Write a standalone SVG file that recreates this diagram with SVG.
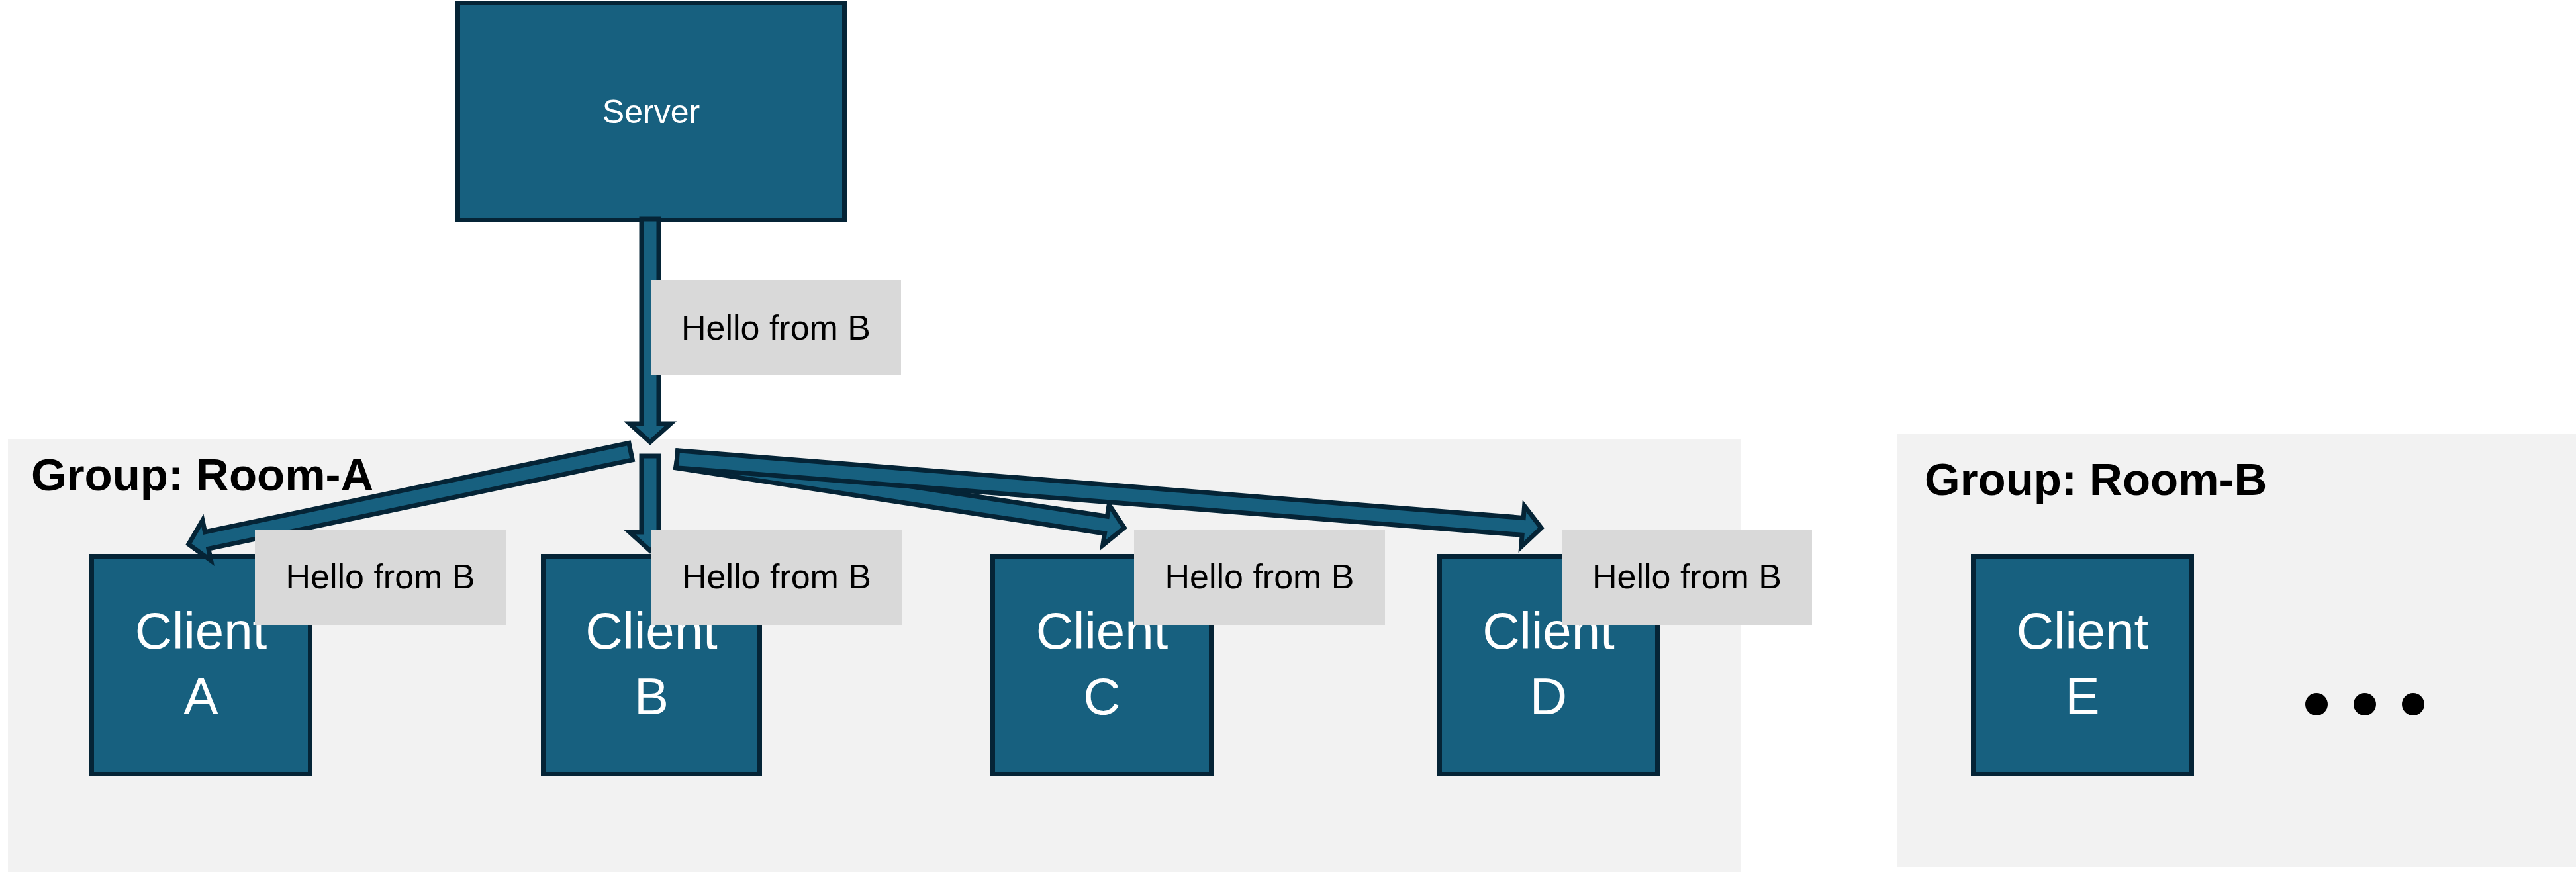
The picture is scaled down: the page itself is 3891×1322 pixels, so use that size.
<svg xmlns="http://www.w3.org/2000/svg" width="3891" height="1322" viewBox="0 0 3891 1322">
<style>
.grp{fill:#F2F2F2}
.grptxt{font-family:"Liberation Sans",Arial,sans-serif;font-weight:bold;font-size:69px;fill:#000}
.box{fill:#17607F;stroke:#052436;stroke-width:7}
.ntxt{font-family:"Liberation Sans",Arial,sans-serif;fill:#fff;text-anchor:middle}
.arr{fill:#17607F;stroke:#052436;stroke-width:7;stroke-linejoin:miter;stroke-miterlimit:10}
.lbl{fill:#D9D9D9}
.ltxt{font-family:"Liberation Sans",Arial,sans-serif;font-size:52px;fill:#000;text-anchor:middle}
</style>
<rect width="3891" height="1322" fill="#fff"/>
<g id="room-a">
<rect class="grp" x="12" y="663" width="2618" height="654"/>
<text class="grptxt" x="47" y="741">Group: Room-A</text>
</g>
<g id="room-b">
<rect class="grp" x="2865" y="656" width="1026" height="654"/>
<text class="grptxt" x="2907" y="748">Group: Room-B</text>
</g>
<g id="server">
<rect class="box" x="691.5" y="4.5" width="584" height="328"/>
<text class="ntxt" x="983.5" y="186" font-size="50">Server</text>
</g>
<g id="client-a">
<rect class="box" x="138.5" y="840.5" width="330" height="329"/>
<text class="ntxt" x="303.5" y="980" font-size="78">Client</text>
<text class="ntxt" x="303.5" y="1079" font-size="78">A</text>
</g>
<g id="client-b">
<rect class="box" x="820.5" y="840.5" width="327" height="329"/>
<text class="ntxt" x="984" y="980" font-size="78">Client</text>
<text class="ntxt" x="984" y="1079" font-size="78">B</text>
</g>
<g id="client-c">
<rect class="box" x="1499.5" y="840.5" width="330" height="329"/>
<text class="ntxt" x="1664.5" y="980" font-size="78">Client</text>
<text class="ntxt" x="1664.5" y="1079" font-size="78">C</text>
</g>
<g id="client-d">
<rect class="box" x="2174.5" y="840.5" width="329" height="329"/>
<text class="ntxt" x="2339" y="980" font-size="78">Client</text>
<text class="ntxt" x="2339" y="1079" font-size="78">D</text>
</g>
<g id="client-e">
<rect class="box" x="2980.5" y="840.5" width="330" height="329"/>
<text class="ntxt" x="3145.5" y="980" font-size="78">Client</text>
<text class="ntxt" x="3145.5" y="1079" font-size="78">E</text>
</g>
<g id="more">
<circle cx="3499" cy="1064" r="17" fill="#000"/>
<circle cx="3572" cy="1064" r="17" fill="#000"/>
<circle cx="3645" cy="1064" r="17" fill="#000"/>
</g>
<g id="connectors">
<polygon class="arr" transform="translate(982,331) rotate(90)" points="0,-13 309,-13 309,-31 337,0 309,31 309,13 0,13"/>
<polygon class="arr" transform="translate(952.6,682.1) rotate(168.15)" points="0,-13 654.3,-13 654.3,-31 682.3,0 654.3,31 654.3,13 0,13"/>
<polygon class="arr" transform="translate(982,689) rotate(90)" points="0,-13 115,-13 115,-31 143,0 115,31 115,13 0,13"/>
<polygon class="arr" transform="translate(1022.5,694) rotate(8.70)" points="0,-13 655.5,-13 655.5,-31 683.5,0 655.5,31 655.5,13 0,13"/>
<polygon class="arr" transform="translate(1022.5,693.7) rotate(4.55)" points="0,-13 1281.7,-13 1281.7,-31 1309.7,0 1281.7,31 1281.7,13 0,13"/>
<g id="label-server">
<rect class="lbl" x="983" y="423" width="378" height="144"/>
<text class="ltxt" x="1172" y="513">Hello from B</text>
</g>
<g id="label-a">
<rect class="lbl" x="385" y="800" width="379" height="144"/>
<text class="ltxt" x="574.5" y="889">Hello from B</text>
</g>
<g id="label-b">
<rect class="lbl" x="984" y="800" width="378" height="144"/>
<text class="ltxt" x="1173" y="889">Hello from B</text>
</g>
<g id="label-c">
<rect class="lbl" x="1713" y="800" width="379" height="144"/>
<text class="ltxt" x="1902.5" y="889">Hello from B</text>
</g>
<g id="label-d">
<rect class="lbl" x="2359" y="800" width="378" height="144"/>
<text class="ltxt" x="2548" y="889">Hello from B</text>
</g>
</g>
</svg>
